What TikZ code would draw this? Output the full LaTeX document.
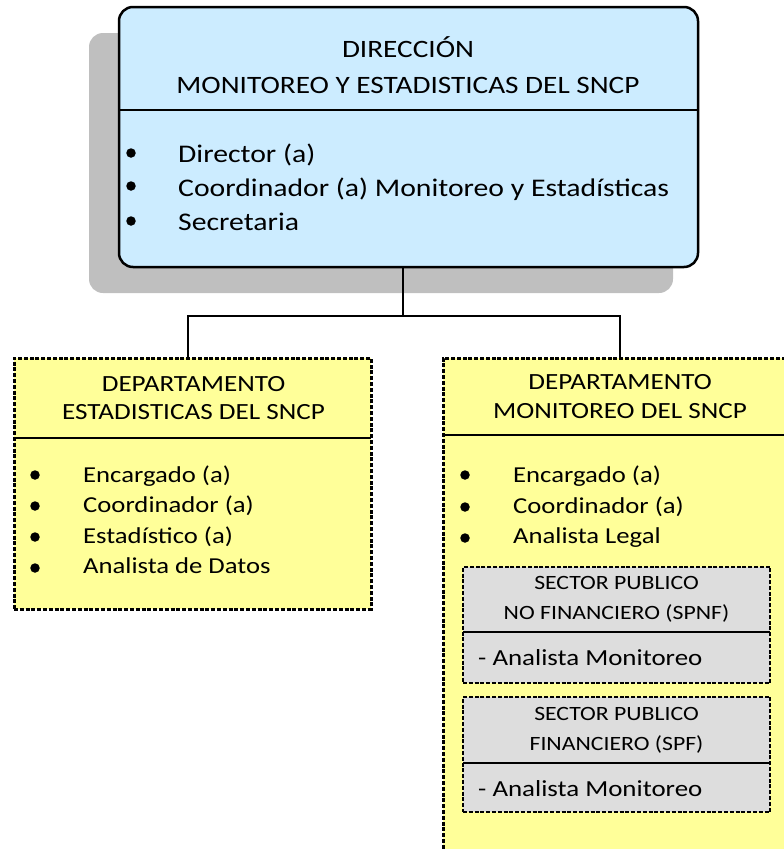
\documentclass[tikz,border=0pt]{standalone}
\usepackage{fontspec}
\setmainfont[FakeStretch=1.17]{Carlito}
\definecolor{dirblue}{HTML}{CCECFF}
\definecolor{depyel}{HTML}{FFFF99}
\definecolor{secgray}{HTML}{DDDDDD}
\definecolor{shadowgray}{HTML}{BFBFBF}
\tikzset{
  boxbase/.style={inner sep=0pt, outer sep=0pt},
  topbox/.style={boxbase, draw=black, line width=2.5pt, fill=dirblue, rounded corners=14pt},
  shadowbox/.style={boxbase, fill=shadowgray, rounded corners=14pt},
  deptbox/.style={boxbase, draw=black, line width=3pt, dash pattern=on 4pt off 1.8pt, fill=depyel},
  secbox/.style={boxbase, draw=black, line width=2.8pt, dash pattern=on 4pt off 1.8pt, fill=secgray},
  divider/.style={draw=black, line width=1.7pt},
  conn/.style={draw=black, line width=2.6pt},
  bul/.style={circle, fill=black, inner sep=0pt, minimum size=9.5pt},
  toptxt/.style={inner sep=0pt, font=\fontsize{25}{30}\selectfont},
  topitem/.style={inner sep=0pt, font=\fontsize{25.4}{30}\selectfont},
  deptxt/.style={inner sep=0pt, font=\fontsize{23.2}{27}\selectfont},
  depitem/.style={inner sep=0pt, font=\fontsize{22.8}{27}\selectfont},
  sectxt/.style={inner sep=0pt, font=\fontsize{20.3}{24}\selectfont},
  secitem/.style={inner sep=0pt, font=\fontsize{23}{27}\selectfont},
}
\begin{document}
\begin{tikzpicture}[x=1pt,y=-1pt]
\useasboundingbox (0,0) rectangle (784,849);
\clip (0,0) rectangle (784,849);
% shadow and top box
\node[shadowbox, minimum width=584pt, minimum height=260pt] (shd) at (381,163) {};
\node[topbox, minimum width=579pt, minimum height=260pt] (dir) at (408.5,137) {};
\draw[divider] (dir.west |- 0,110) -- (dir.east |- 0,110);
\node[toptxt, anchor=base] (dirh1) at (408,57) {DIRECCIÓN};
\node[toptxt, anchor=base] (dirh2) at (408,93) {MONITOREO Y ESTADISTICAS DEL SNCP};
\node[bul] (db1) at (131,153) {};
\node[bul] (db2) at (131,186) {};
\node[bul] (db3) at (131,221) {};
\node[topitem, anchor=base west] (di1) at (178,162) {Director (a)};
\node[topitem, anchor=base west] (di2) at (178,196) {Coordinador (a) Monitoreo y Estadísticas};
\node[topitem, anchor=base west] (di3) at (178,230) {Secretaria};
% departments
\node[deptbox, minimum width=357pt, minimum height=251pt] (deptE) at (192.5,483.5) {};
\draw[divider] (deptE.west |- 0,438) -- (deptE.east |- 0,438);
\node[deptxt, anchor=base] (eh1) at (193.5,391) {DEPARTAMENTO};
\node[deptxt, anchor=base] (eh2) at (193.5,419) {ESTADISTICAS DEL SNCP};
\node[bul] (eb1) at (35,475) {};
\node[bul] (eb2) at (35,506) {};
\node[bul] (eb3) at (35,537) {};
\node[bul] (eb4) at (35,568) {};
\node[depitem, anchor=base west] (ei1) at (83,482) {Encargado (a)};
\node[depitem, anchor=base west] (ei2) at (83,512) {Coordinador (a)};
\node[depitem, anchor=base west] (ei3) at (83,543) {Estadístico (a)};
\node[depitem, anchor=base west] (ei4) at (83,573) {Analista de Datos};
\node[deptbox, minimum width=354pt, minimum height=522pt] (deptM) at (620,619) {};
\draw[divider] (deptM.west |- 0,435) -- (deptM.east |- 0,435);
\node[deptxt, anchor=base] (mh1) at (620,389) {DEPARTAMENTO};
\node[deptxt, anchor=base] (mh2) at (620,418) {MONITOREO DEL SNCP};
\node[bul] (mb1) at (465,475) {};
\node[bul] (mb2) at (465,507) {};
\node[bul] (mb3) at (465,538) {};
\node[depitem, anchor=base west] (mi1) at (513,482) {Encargado (a)};
\node[depitem, anchor=base west] (mi2) at (513,513) {Coordinador (a)};
\node[depitem, anchor=base west] (mi3) at (513,543) {Analista Legal};
% sectors
\node[secbox, minimum width=307pt, minimum height=116pt] (spnf) at (616.5,625) {};
\draw[divider] (spnf.west |- 0,632) -- (spnf.east |- 0,632);
\node[sectxt, anchor=base] (s1h1) at (616.5,589) {SECTOR PUBLICO};
\node[sectxt, anchor=base] (s1h2) at (616.5,619) {NO FINANCIERO (SPNF)};
\node[secitem, anchor=base west] (s1i) at (478,665) {- Analista Monitoreo};
\node[secbox, minimum width=307pt, minimum height=115pt] (spf) at (616.5,754.5) {};
\draw[divider] (spf.west |- 0,763) -- (spf.east |- 0,763);
\node[sectxt, anchor=base] (s2h1) at (616.5,720.5) {SECTOR PUBLICO};
\node[sectxt, anchor=base] (s2h2) at (616.5,750.5) {FINANCIERO (SPF)};
\node[secitem, anchor=base west] (s2i) at (478,796.5) {- Analista Monitoreo};
% connectors
\coordinate (hub) at (403,316);
\coordinate (lk) at (188,316);
\coordinate (rk) at (620,316);
\draw[conn] (hub |- dir.south) -- (hub);
\draw[conn, line cap=rect] (lk |- deptE.north) -- (lk) -- (rk) -- (rk |- deptM.north);
\end{tikzpicture}
\end{document}
